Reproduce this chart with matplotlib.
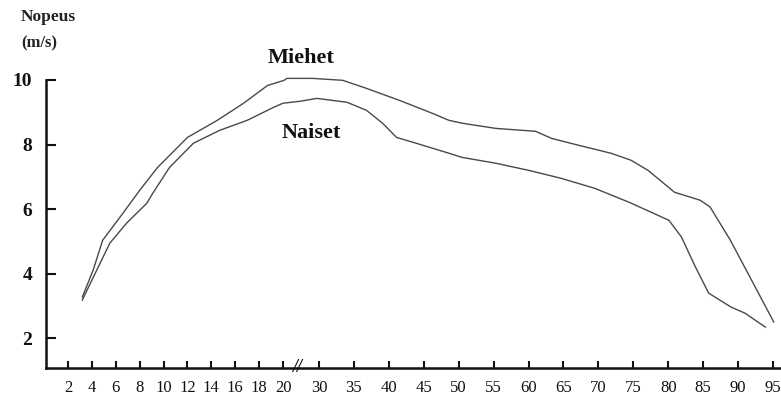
import numpy as np
import matplotlib
matplotlib.use("Agg")
import matplotlib.pyplot as plt

# ---- data ----
men_age = [3.2, 4.1, 4.9, 6.6, 8.0, 9.5, 12.0, 14.5, 16.7, 18.7, 20.3, 21.1, 28.3, 33.4, 36.8,
           41.5, 46.2, 48.6, 50.5, 55.3, 61.0, 63.3, 67.1, 71.8, 74.7, 77.1, 80.9, 84.6,
           86.0, 88.9, 91.7, 95.1]
men_speed = [3.27, 4.10, 5.03, 5.87, 6.58, 7.29, 8.22, 8.75, 9.28, 9.83, 9.99, 10.05, 10.05,
             9.99, 9.74, 9.37, 8.97, 8.75, 8.66, 8.50, 8.41, 8.19, 7.98, 7.73, 7.51, 7.20,
             6.52, 6.27, 6.06, 5.03, 3.89, 2.50]

women_age = [3.2, 4.4, 5.5, 6.9, 8.6, 9.1, 10.5, 12.5, 14.7, 17.0, 19.2, 20.0, 24.7, 29.4,
             34.0, 36.8, 39.1, 41.1, 43.9, 48.6, 50.5, 55.3, 60.0, 64.7, 69.5, 74.5, 80.1,
             81.9, 83.9, 85.8, 89.0, 91.0, 93.9]
women_speed = [3.18, 4.10, 4.94, 5.56, 6.18, 6.49, 7.29, 8.04, 8.44, 8.75, 9.15, 9.28, 9.34,
               9.43, 9.31, 9.06, 8.66, 8.22, 8.04, 7.73, 7.60, 7.42, 7.20, 6.95, 6.64, 6.20,
               5.65, 5.13, 4.20, 3.39, 2.96, 2.77, 2.34]

x_ticks = [2, 4, 6, 8, 10, 12, 14, 16, 18, 20, 30, 35, 40, 45, 50, 55, 60, 65, 70, 75, 80,
           85, 90, 95]
y_ticks = [2, 4, 6, 8, 10]

series_labels = ["Miehet", "Naiset"]
y_title = ["Nopeus", "(m/s)"]

# ---- broken x scale (piecewise linear) ----
_a = np.array([-20.0, 2.0, 20.0, 30.0, 95.0, 130.0])
_p = np.array([68 - 22 * 11.94, 68.0, 283.0, 319.0, 773.0, 773.0 + 35 * 6.98])


def fwd(a):
    return np.interp(np.asarray(a, dtype=float), _a, _p)


def inv(p):
    return np.interp(np.asarray(p, dtype=float), _p, _a)


W, H = 781, 398
fig = plt.figure(figsize=(W / 100, H / 100), dpi=100)
ax = fig.add_axes([46 / W, 1 - 368 / H, (780 - 46) / W, (368 - 80) / H])
ax.set_xscale("function", functions=(fwd, inv))
ax.set_xlim(inv(46), inv(780))
ax.set_ylim(2 - (368 - 338) / 32.3, 10)

line_color = "#4a4a40"
ax.plot(men_age, men_speed, color=line_color, lw=1.0, clip_on=False)
ax.plot(women_age, women_speed, color=line_color, lw=1.0, clip_on=False)

serif = "Liberation Serif"
ax.text(25.0, 10.67, series_labels[0], ha="center", va="center", fontsize=16,
        fontweight="bold", family=serif, color="#111")
ax.text(27.8, 8.35, series_labels[1], ha="center", va="center", fontsize=16,
        fontweight="bold", family=serif, color="#111")

fig.text(21 / W, 1 - 17 / H, y_title[0], ha="left", va="center", fontsize=12.5,
         fontweight="bold", family=serif, color="#222")
fig.text(21 / W, 1 - 43 / H, y_title[1], ha="left", va="center", fontsize=12,
         fontweight="bold", family=serif, color="#222")

for s in ["top", "right"]:
    ax.spines[s].set_visible(False)
for s in ["left", "bottom"]:
    ax.spines[s].set_linewidth(1.8)
    ax.spines[s].set_color("#111")

ax.set_xticks(x_ticks)
ax.set_xticklabels([str(t) for t in x_ticks], family=serif, fontsize=12)
ax.set_yticks(y_ticks)
ax.set_yticklabels([str(t) for t in y_ticks], family=serif, fontsize=14, fontweight="bold")
ax.minorticks_off()
ax.tick_params(axis="x", direction="in", length=5, width=1.5, pad=9, colors="#111")
ax.tick_params(axis="y", direction="in", length=7, width=1.5, pad=10, colors="#111")

# break mark on the x axis
ax.text(23.9, ax.get_ylim()[0], "//", ha="center", va="center", fontsize=13,
        family=serif, fontweight="bold", color="#111", fontstyle="italic")

fig.savefig("out.png", dpi=100, facecolor="white")
